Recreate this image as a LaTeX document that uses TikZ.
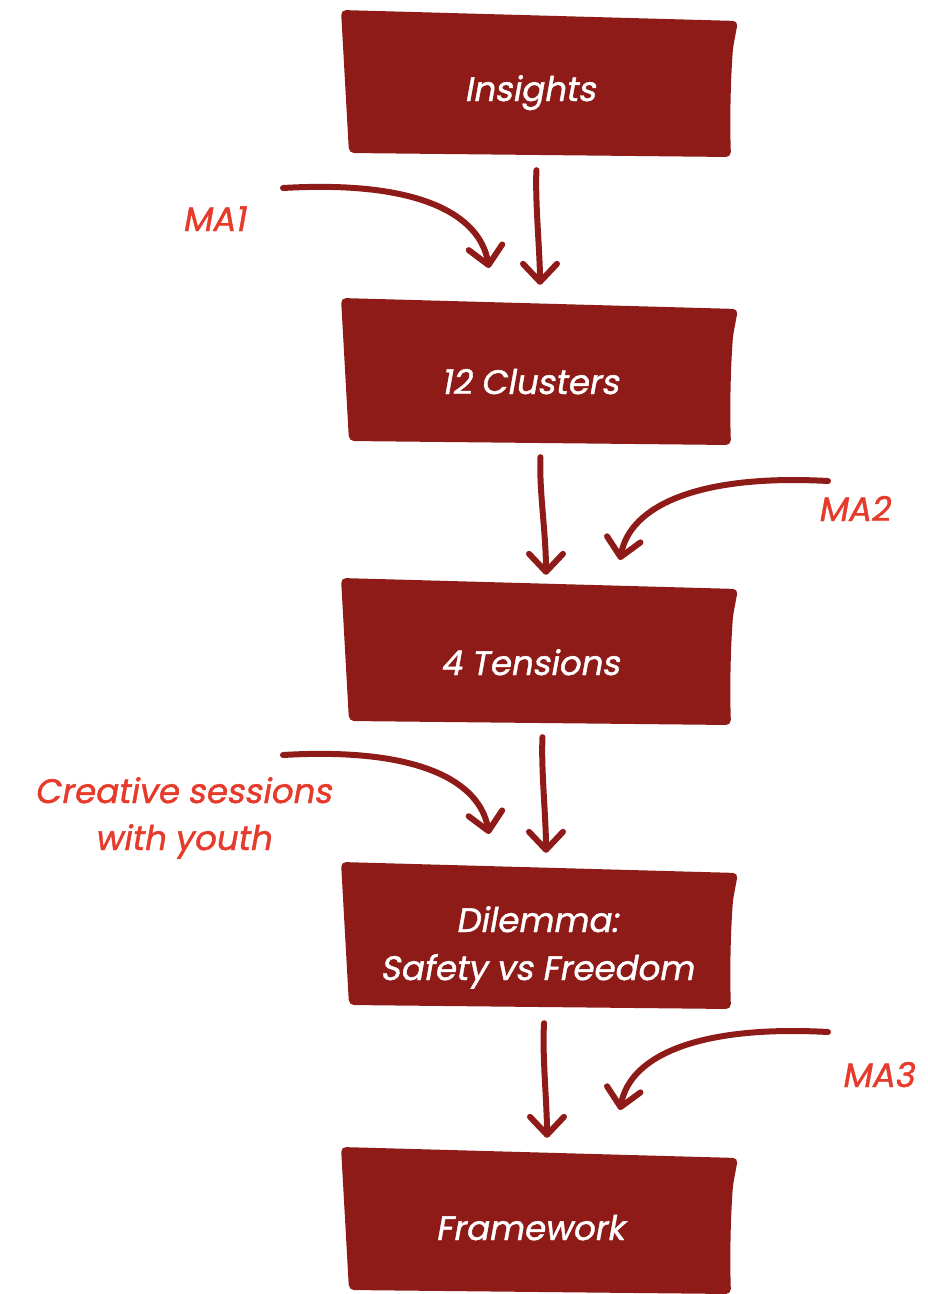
\documentclass[tikz,border=0pt]{standalone}
\usepackage{fontspec}
\setmainfont{Poppins}[FakeSlant=0.18, FakeBold=1.2]
\usetikzlibrary{arrows.meta}
\definecolor{boxred}{HTML}{8E1B18}
\definecolor{labelred}{HTML}{E63A2B}

% hand-cut banner: top-left corner at (341,#1)
\newcommand\banner[1]{%
  \fill[boxred, shift={(341,#1)}, rounded corners=5pt]
    (0,0) -- (397,11) -- (392,38) .. controls (389,80) and (389,120) .. (390,147)
    -- (8,143) -- cycle;}

\begin{document}
\begin{tikzpicture}[x=1pt, y=-1pt,
  frame/.style={minimum width=390pt, minimum height=147pt, inner sep=0pt},
  boxtext/.style={text=white, font=\fontsize{34}{44}\selectfont, anchor=base, align=center},
  note/.style={text=labelred, font=\fontsize{34}{44}\selectfont, anchor=base, align=center},
  flow/.style={draw=boxred, line width=6pt, line cap=round,
    -{Straight Barb[length=18pt, width=34pt, round]}}]
\useasboundingbox (0,0) rectangle (927,1294);

% banners
\banner{10}
\banner{298}
\banner{578}
\banner{862}
\banner{1147}

% invisible frames used as connector anchors
\node[frame] (b1) at (539,83.5) {};
\node[frame] (b2) at (539,371.5) {};
\node[frame] (b3) at (539,651.5) {};
\node[frame] (b4) at (539,935.5) {};
\node[frame] (b5) at (539,1220.5) {};

% banner texts
\node[boxtext] (t1) at (530,101) {Insights};
\node[boxtext] (t2) at (530,394) {12 Clusters};
\node[boxtext] (t3) at (530,675) {4 Tensions};
\node[boxtext] (t4a) at (537,932) {Dilemma:};
\node[boxtext] (t4b) at (537,980) {Safety vs Freedom};
\node[boxtext] (t5) at (530,1240) {Framework};

% side labels
\node[note] (ma1) at (214,231) {MA1};
\node[note] (ma2) at (854,521) {MA2};
\node[note] (cs1) at (183,803) {Creative sessions};
\node[note] (cs2) at (183,850) {with youth};
\node[note] (ma3) at (878,1087) {MA3};

% tails of the side arrows
\coordinate (s1) at (283,188);
\coordinate (e1) at (489,268);
\coordinate (s2) at (828,481);
\coordinate (e2) at (620,560);
\coordinate (s3) at (283,755);
\coordinate (e3) at (489,834);
\coordinate (s4) at (828,1032);
\coordinate (e4) at (620,1110);

% main flow
\draw[flow, shorten <=13pt, shorten >=13pt]
  ([xshift=-2pt]b1.south) .. controls +(-2,45) and +(0,-45) .. ([xshift=1pt]b2.north);
\draw[flow, shorten <=12pt, shorten >=3pt]
  ([xshift=2pt]b2.south) .. controls +(-2,45) and +(0,-45) .. ([xshift=7pt]b3.north);
\draw[flow, shorten <=12pt, shorten >=9pt]
  ([xshift=4pt]b3.south) .. controls +(-2,45) and +(0,-45) .. ([xshift=7pt]b4.north);
\draw[flow, shorten <=14pt, shorten >=9pt]
  ([xshift=6pt]b4.south) .. controls +(-3,45) and +(0,-45) .. ([xshift=8pt]b5.north);

% incoming side arrows
\draw[flow] (s1) .. controls (420,180) and (480,215) .. (e1);
\draw[flow] (s2) .. controls (700,474) and (630,505) .. (e2);
\draw[flow] (s3) .. controls (420,747) and (480,782) .. (e3);
\draw[flow] (s4) .. controls (700,1025) and (630,1055) .. (e4);
\end{tikzpicture}
\end{document}
